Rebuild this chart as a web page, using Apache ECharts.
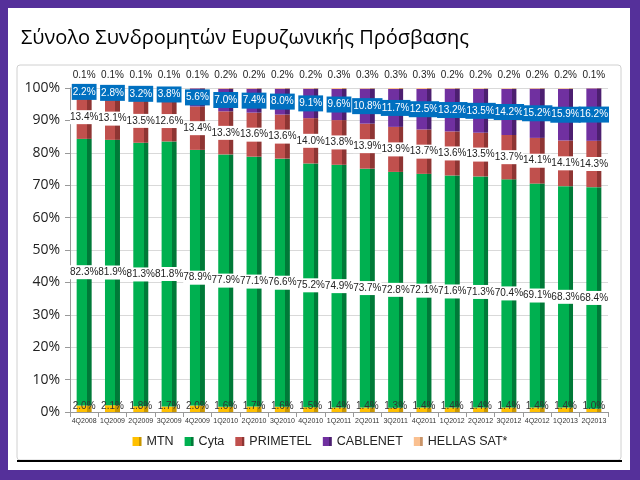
<!DOCTYPE html>
<html>
<head>
<meta charset="utf-8">
<script src="https://cdn.jsdelivr.net/npm/echarts@6/dist/echarts.min.js"></script>
<style>
  html, body { margin: 0; padding: 0; }
  #chart { width: 640px; height: 480px; }
</style>
</head>
<body>
<div id="chart"></div>
<script>
var quarters = ['4Q2008', '1Q2009', '2Q2009', '3Q2009', '4Q2009', '1Q2010', '2Q2010', '3Q2010', '4Q2010',
  '1Q2011', '2Q2011', '3Q2011', '4Q2011', '1Q2012', '2Q2012', '3Q2012', '4Q2012', '1Q2013', '2Q2013']
var mtn = [2.0, 2.1, 1.8, 1.7, 2.0, 1.6, 1.7, 1.6, 1.5, 1.4, 1.4, 1.3, 1.4, 1.4, 1.4, 1.4, 1.4, 1.4, 1.0]
var cyta = [82.3, 81.9, 81.3, 81.8, 78.9, 77.9, 77.1, 76.6, 75.2, 74.9, 73.7, 72.8, 72.1, 71.6, 71.3, 70.4, 69.1, 68.3, 68.4]
var primetel = [13.4, 13.1, 13.5, 12.6, 13.4, 13.3, 13.6, 13.6, 14.0, 13.8, 13.9, 13.9, 13.7, 13.6, 13.5, 13.7, 14.1, 14.1, 14.3]
var cablenet = [2.2, 2.8, 3.2, 3.8, 5.6, 7.0, 7.4, 8.0, 9.1, 9.6, 10.8, 11.7, 12.5, 13.2, 13.5, 14.2, 15.2, 15.9, 16.2]
var hellas = [0.1, 0.1, 0.1, 0.1, 0.1, 0.2, 0.2, 0.2, 0.2, 0.3, 0.3, 0.3, 0.3, 0.2, 0.2, 0.2, 0.2, 0.2, 0.1]
var yTicks = [0, 10, 20, 30, 40, 50, 60, 70, 80, 90, 100]

var lbFont = '"Liberation Sans", Arial, sans-serif'

// fake 3d side: darker strip on the right of each bar
function shade(main, dark) {
  return new echarts.graphic.LinearGradient(0, 0, 1, 0, [
    { offset: 0, color: main },
    { offset: 0.7, color: main },
    { offset: 0.7, color: dark },
    { offset: 1, color: dark }
  ])
}

function pct(p) {
  return p.value.toFixed(1) + '%'
}

var chart = echarts.init(document.getElementById('chart'))

function makeSeries(name, data, main, dark, label) {
  return {
    name: name,
    type: 'bar',
    stack: 'total',
    barWidth: 15,
    data: data,
    itemStyle: { color: shade(main, dark) },
    label: Object.assign({ show: true, formatter: pct, fontSize: 10, color: '#222', fontFamily: lbFont }, label)
  }
}

chart.setOption({
  backgroundColor: '#55309a',
  animation: false,
  graphic: [
    { type: 'rect', shape: { x: 8, y: 8, width: 622, height: 462 }, style: { fill: '#fff' }, z: -10 },
    { type: 'rect', shape: { x: 17, y: 65, width: 604, height: 395, r: 3 }, style: { fill: '#fff', stroke: '#d0d0d0', lineWidth: 1 }, z: -9 },
    { type: 'line', shape: { x1: 17, y1: 461, x2: 622, y2: 461 }, style: { stroke: '#000', lineWidth: 2 }, z: -8 }
  ],
  title: {
    text: 'Σύνολο Συνδρομητών Ευρυζωνικής Πρόσβασης',
    left: 16,
    top: 23,
    textStyle: { fontSize: 20, fontWeight: 'normal', color: '#000', fontFamily: 'Open Sans' }
  },
  legend: {
    bottom: 27,
    left: 'center',
    itemWidth: 9,
    itemHeight: 9,
    itemGap: 11,
    icon: 'rect',
    textStyle: { fontSize: 12.5, color: '#222', fontFamily: lbFont },
    data: ['MTN', 'Cyta', 'PRIMETEL', 'CABLENET', 'HELLAS SAT*']
  },
  grid: { left: 70, right: 32, top: 88, bottom: 68 },
  xAxis: {
    type: 'category',
    data: quarters,
    axisLine: { lineStyle: { color: '#999' } },
    axisTick: { show: true, lineStyle: { color: '#999' } },
    axisLabel: { interval: 0, fontSize: 7, color: '#333', margin: 6 }
  },
  yAxis: {
    type: 'value',
    min: 0,
    max: 100,
    interval: 10,
    axisLine: { show: true, lineStyle: { color: '#999' } },
    axisTick: { show: true, lineStyle: { color: '#999' } },
    splitLine: { lineStyle: { color: '#d9d9d9' } },
    axisLabel: {
      fontSize: 14,
      color: '#222',
      fontFamily: 'Open Sans',
      margin: 10,
      formatter: function (v) { return yTicks.indexOf(v) >= 0 ? v + '%' : '' }
    }
  },
  series: [
    makeSeries('MTN', mtn, '#ffc000', '#c89600', { position: 'insideBottom', distance: 1, fontSize: 10, color: '#333' }),
    makeSeries('Cyta', cyta, '#00b050', '#007a38', { position: 'inside', backgroundColor: '#fff', padding: [2, 0] }),
    makeSeries('PRIMETEL', primetel, '#c0504d', '#8e3533', { position: 'inside', backgroundColor: '#fff', padding: [2, 0] }),
    makeSeries('CABLENET', cablenet, '#7030a0', '#4c1f70', { position: 'inside', backgroundColor: '#0070c0', color: '#fff', padding: [3, 1] }),
    makeSeries('HELLAS SAT*', hellas, '#fac090', '#c99468', { position: 'top', distance: 8 })
  ]
})
</script>
</body>
</html>
